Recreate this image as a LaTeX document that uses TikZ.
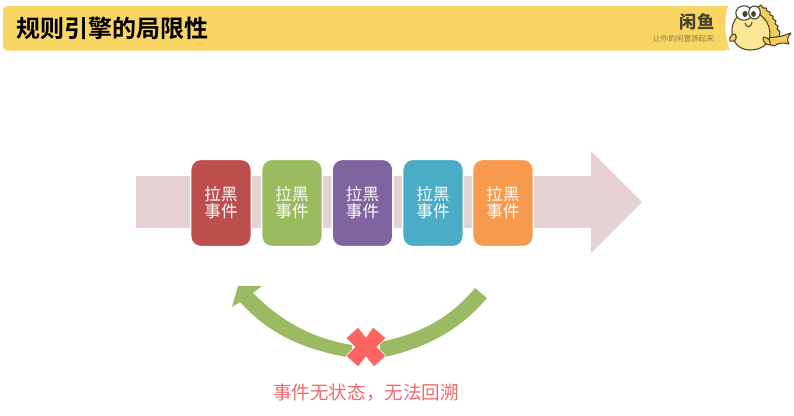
\documentclass[tikz,border=0pt]{standalone}
\usepackage{fontspec}
\setmainfont{Noto Sans CJK SC}
\newfontfamily\cjkbold[BoldFont={Noto Sans CJK SC Bold}]{Noto Sans CJK SC}
\definecolor{bandpink}{HTML}{E6D1D2}
\definecolor{arcg}{HTML}{9BBB62}
\definecolor{barY}{HTML}{F9D664}
\definecolor{xred}{HTML}{FB6460}
\definecolor{redtext}{HTML}{F0696E}
\definecolor{fishdark}{HTML}{4A4230}
\definecolor{fishbody}{HTML}{FBE795}
\definecolor{fishfin}{HTML}{F4CE5C}
\definecolor{cardA}{HTML}{BC4F4E}
\definecolor{cardB}{HTML}{9BBB5F}
\definecolor{cardC}{HTML}{8064A0}
\definecolor{cardD}{HTML}{4BACC6}
\definecolor{cardE}{HTML}{F79A4E}
\begin{document}
\begin{tikzpicture}[x=0.75pt,y=-0.75pt,
  card/.style={draw=white,line width=1.2pt,rounded corners=7.5pt,minimum width=45.5pt,minimum height=65.5pt,inner sep=0pt,text=white,font=\fontsize{12.4pt}{12.8pt}\selectfont,align=center},
  band/.style={fill=bandpink},
  arcgreen/.style={fill=arcg},
  fishline/.style={draw=fishdark,line width=0.8pt,line join=round}]
\useasboundingbox (0,0) rectangle (794,415);
% title bar
\fill[barY,rounded corners=3pt] (3,6) rectangle (791,50.5);
\node[anchor=west,inner sep=0pt,font=\fontsize{18pt}{20pt}\selectfont,text=black] (title) at (16.5,28.5) {\cjkbold\bfseries 规则引擎的局限性};
% logo
\node[inner sep=0pt,font=\fontsize{13pt}{14pt}\selectfont\bfseries,text=fishdark] (logo) at (697,21.5) {闲鱼};
\node[inner sep=0pt,font=\fontsize{5.7pt}{6pt}\selectfont,text=fishdark!60!barY] (slogan) at (683.5,38.5) {让你的闲置游起来};
% fish
\fill[white] (794,0) -- (740,3) .. controls (732,3) and (727,6) .. (727,9) .. controls (725,20) and (724,34) .. (730,50) -- (794,52) -- cycle;
\fill[white] (726,50) rectangle (794,53);
% back fin with teeth
\filldraw[fill=fishfin,fishline] (758,7) -- (761,5) -- (763,8) -- (766,8) -- (767,11) -- (770,12) -- (770,15) -- (773,16) -- (773,19) -- (776,21) -- (775,24) -- (778,26) -- (777,29) -- (780,32) -- (779,37) -- (768,38) -- (760,14) -- cycle;
% tail
\filldraw[fill=fishfin,fishline] (767,37) .. controls (774,38) and (780,37) .. (791,33) .. controls (788,37) and (786,39) .. (789,44) .. controls (783,42) and (779,43) .. (774,46) .. controls (771,44) and (768,44) .. (765,44) -- cycle;
% body
\filldraw[fill=fishbody,fishline] (750,12) .. controls (762,12) and (770,23) .. (770,34) .. controls (770,44) and (761,50) .. (750,50) .. controls (738,50) and (732,41) .. (732,31) .. controls (732,21) and (738,12) .. (750,12) -- cycle;
% side fins
\filldraw[fill=fishfin,fishline] (735,34) .. controls (731,34) and (729,38) .. (730,41) .. controls (734,42) and (737,40) .. (736,36) -- cycle;
\filldraw[fill=fishfin,fishline] (764,37) .. controls (769,38) and (771,41) .. (770,45) .. controls (766,45) and (763,42) .. (763,38) -- cycle;
% eyes
\filldraw[fill=white,fishline] (744,13) ellipse [x radius=8.2, y radius=7.2];
\filldraw[fill=white,fishline] (754.5,12.5) ellipse [x radius=5.8, y radius=6.5];
\fill[fishdark] (745,14) ellipse [x radius=2.6, y radius=3];
\fill[fishdark] (753.5,14) ellipse [x radius=2.4, y radius=3];
\draw[fishdark,line width=0.8pt,line cap=round] (745,23) .. controls (746,28) and (751,28) .. (752,22.5);
% band arrow
\fill[band] (136,176) -- (591,176) -- (591,151) -- (642,202) -- (591,253) -- (591,228) -- (136,228) -- cycle;
% cards
\node[card,fill=cardA] (c1) at (221,203) {\raisebox{0.7pt}{拉黑}\\\raisebox{0.7pt}{事件}};
\node[card,fill=cardB] (c2) at (292,203) {\raisebox{0.7pt}{拉黑}\\\raisebox{0.7pt}{事件}};
\node[card,fill=cardC] (c3) at (362.5,203) {\raisebox{0.7pt}{拉黑}\\\raisebox{0.7pt}{事件}};
\node[card,fill=cardD] (c4) at (433,203) {\raisebox{0.7pt}{拉黑}\\\raisebox{0.7pt}{事件}};
\node[card,fill=cardE] (c5) at (503,203) {\raisebox{0.7pt}{拉黑}\\\raisebox{0.7pt}{事件}};
% curved arrow
\fill[arcgreen] (487,298) .. controls (460,330) and (425,349) .. (380,358) -- (380,342) .. controls (420,334) and (450,318) .. (475,288) -- cycle;
\fill[arcgreen] (352,358) .. controls (305,350) and (270,335) .. (240,302) -- (232,307) -- (238,286) -- (262,286) -- (253,293) .. controls (280,320) and (310,338) .. (352,345) -- cycle;
% cross
\filldraw[fill=xred,draw=white,line width=0.5pt] (366,337) -- (358,327) -- (346,338) -- (355,347) -- (346,356) -- (358,367) -- (366,357) -- (374,367) -- (386,356) -- (377,347) -- (386,338) -- (373,327) -- cycle;
% caption
\node[inner sep=0pt,font=\fontsize{13.9pt}{15pt}\selectfont,text=redtext] (cap) at (366,393) {事件无状态，无法回溯};
\end{tikzpicture}
\end{document}
